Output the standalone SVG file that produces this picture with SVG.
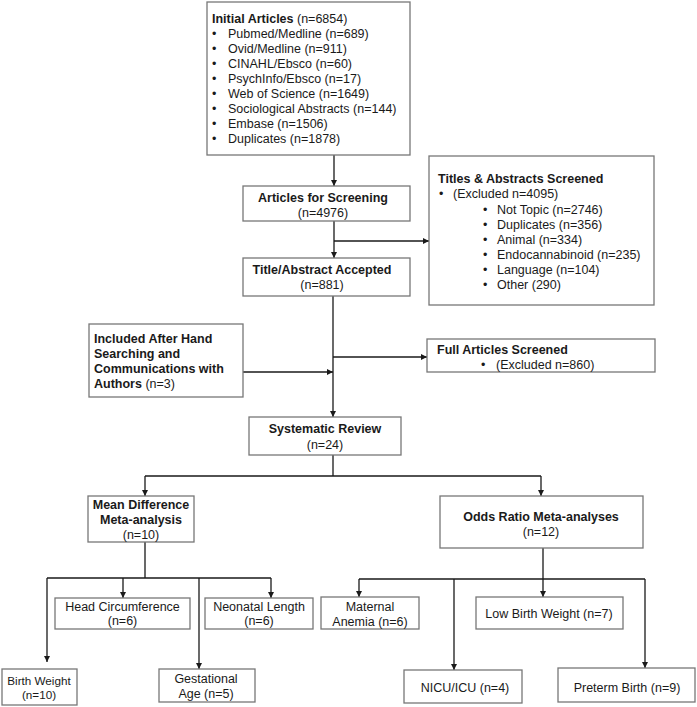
<svg xmlns="http://www.w3.org/2000/svg" width="697" height="707" viewBox="0 0 697 707">
<defs>
<marker id="arr" markerUnits="userSpaceOnUse" markerWidth="6" markerHeight="6" refX="6" refY="3" orient="auto">
<path d="M0,0 L6,3 L0,6 z" fill="#1a1a1a"/>
</marker>
<style>
.box{fill:#fff;stroke:#777;stroke-width:1.3}
.t{font-family:"Liberation Sans",Arial,sans-serif;font-size:12.5px;fill:#1a1a1a}
.b{font-weight:bold}
.c{text-anchor:middle}
.ln{fill:none;stroke:#1a1a1a;stroke-width:1.3}
.ar{fill:none;stroke:#1a1a1a;stroke-width:1.3;marker-end:url(#arr)}
</style>
</defs>
<rect width="697" height="707" fill="#fff"/>
<g id="connectors">
<path class="ar" d="M334,155 V186"/>
<path class="ar" d="M334,221 V258"/>
<path class="ar" d="M334,241 H429"/>
<path class="ln" d="M333,296 V357"/>
<path class="ar" d="M333,357 V417"/>
<path class="ar" d="M333,357 H427"/>
<path class="ar" d="M243,372 H333"/>
<path class="ln" d="M333,455 V476 M145,476 H541"/>
<path class="ar" d="M145,476 V496"/>
<path class="ar" d="M541,476 V496"/>
<path class="ln" d="M145,542 V578 M47,578 H271"/>
<path class="ar" d="M47,578 V662"/>
<path class="ar" d="M123,578 V598"/>
<path class="ar" d="M199,578 V669"/>
<path class="ar" d="M271,578 V598"/>
<path class="ln" d="M543,548 V579 M359,579 H645"/>
<path class="ar" d="M359,579 V597"/>
<path class="ar" d="M454,579 V670"/>
<path class="ar" d="M543,579 V597"/>
<path class="ar" d="M645,579 V668"/>
</g>
<g id="initial">
<rect class="box" x="207" y="2" width="203" height="153"/>
<text class="t" x="212" y="22.5"><tspan class="b">Initial Articles</tspan> (n=6854)</text>
<text class="t" x="212" y="37.6">•</text><text class="t" x="228" y="37.6">Pubmed/Medline (n=689)</text>
<text class="t" x="212" y="52.6">•</text><text class="t" x="228" y="52.6">Ovid/Medline (n=911)</text>
<text class="t" x="212" y="67.7">•</text><text class="t" x="228" y="67.7">CINAHL/Ebsco (n=60)</text>
<text class="t" x="212" y="82.7">•</text><text class="t" x="228" y="82.7">PsychInfo/Ebsco (n=17)</text>
<text class="t" x="212" y="97.8">•</text><text class="t" x="228" y="97.8">Web of Science (n=1649)</text>
<text class="t" x="212" y="112.9">•</text><text class="t" x="228" y="112.9">Sociological Abstracts (n=144)</text>
<text class="t" x="212" y="127.9">•</text><text class="t" x="228" y="127.9">Embase (n=1506)</text>
<text class="t" x="212" y="143">•</text><text class="t" x="228" y="143">Duplicates (n=1878)</text>
</g>
<g id="screening">
<rect class="box" x="243" y="186" width="167" height="35"/>
<text class="t b c" x="323" y="201.5">Articles for Screening</text>
<text class="t c" x="323" y="217">(n=4976)</text>
</g>
<g id="titles">
<rect class="box" x="429" y="156" width="225" height="149"/>
<text class="t b" x="438" y="182.5">Titles &amp; Abstracts Screened</text>
<text class="t" x="439" y="198">•</text><text class="t" x="453" y="198">(Excluded n=4095)</text>
<text class="t" x="483" y="213.5">•</text><text class="t" x="497" y="213.5">Not Topic (n=2746)</text>
<text class="t" x="483" y="228.5">•</text><text class="t" x="497" y="228.5">Duplicates (n=356)</text>
<text class="t" x="483" y="243.5">•</text><text class="t" x="497" y="243.5">Animal (n=334)</text>
<text class="t" x="483" y="258.5">•</text><text class="t" x="497" y="258.5">Endocannabinoid (n=235)</text>
<text class="t" x="483" y="273.5">•</text><text class="t" x="497" y="273.5">Language (n=104)</text>
<text class="t" x="483" y="288.5">•</text><text class="t" x="497" y="288.5">Other (290)</text>
</g>
<g id="accepted">
<rect class="box" x="243" y="258" width="167" height="38"/>
<text class="t b c" x="322" y="273.5">Title/Abstract Accepted</text>
<text class="t c" x="322" y="289">(n=881)</text>
</g>
<g id="handsearch">
<rect class="box" x="89" y="324" width="154" height="73"/>
<text class="t b" x="94" y="343">Included After Hand</text>
<text class="t b" x="94" y="358">Searching and</text>
<text class="t b" x="94" y="373">Communications with</text>
<text class="t" x="94" y="388"><tspan class="b">Authors</tspan> (n=3)</text>
</g>
<g id="fullarticles">
<rect class="box" x="427" y="339" width="228" height="33"/>
<text class="t b" x="437" y="354">Full Articles Screened</text>
<text class="t" x="481" y="369">•</text><text class="t" x="496" y="369">(Excluded n=860)</text>
</g>
<g id="systematic">
<rect class="box" x="249" y="417" width="152" height="38"/>
<text class="t b c" x="325" y="433">Systematic Review</text>
<text class="t c" x="325" y="449">(n=24)</text>
</g>
<g id="meandiff">
<rect class="box" x="88" y="496" width="106" height="46"/>
<text class="t b c" x="141" y="508.5">Mean Difference</text>
<text class="t b c" x="141" y="523.5">Meta-analysis</text>
<text class="t c" x="141" y="539">(n=10)</text>
</g>
<g id="oddsratio">
<rect class="box" x="440" y="496" width="203" height="52"/>
<text class="t b c" x="541" y="520.5">Odds Ratio Meta-analyses</text>
<text class="t c" x="541" y="536">(n=12)</text>
</g>
<g id="headcirc">
<rect class="box" x="55" y="598" width="135" height="31"/>
<text class="t c" x="122.5" y="611">Head Circumference</text>
<text class="t c" x="122.5" y="625">(n=6)</text>
</g>
<g id="neonatal">
<rect class="box" x="205" y="598" width="108" height="31"/>
<text class="t c" x="259" y="611">Neonatal Length</text>
<text class="t c" x="259" y="625">(n=6)</text>
</g>
<g id="birthweight">
<rect class="box" x="2" y="669" width="75" height="36"/>
<text class="t c" x="39" y="685" style="font-size:11.7px">Birth Weight</text>
<text class="t c" x="39" y="699" style="font-size:11.7px">(n=10)</text>
</g>
<g id="gestational">
<rect class="box" x="159" y="669" width="96" height="33"/>
<text class="t c" x="206" y="683">Gestational</text>
<text class="t c" x="206" y="698">Age (n=5)</text>
</g>
<g id="anemia">
<rect class="box" x="321" y="597" width="98" height="32"/>
<text class="t c" x="370" y="611">Maternal</text>
<text class="t c" x="370" y="625.5">Anemia (n=6)</text>
</g>
<g id="lbw">
<rect class="box" x="476" y="597" width="147" height="32"/>
<text class="t c" x="549" y="618">Low Birth Weight (n=7)</text>
</g>
<g id="nicu">
<rect class="box" x="404" y="670" width="118" height="33"/>
<text class="t c" x="465" y="692">NICU/ICU (n=4)</text>
</g>
<g id="preterm">
<rect class="box" x="558" y="668" width="137" height="34"/>
<text class="t c" x="627" y="691.5">Preterm Birth (n=9)</text>
</g>
</svg>
